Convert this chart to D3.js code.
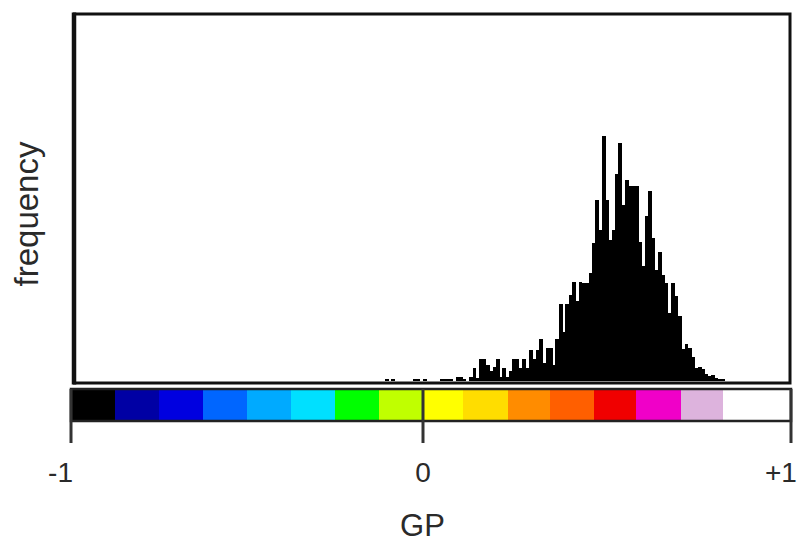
<!DOCTYPE html>
<html>
<head>
<meta charset="utf-8">
<script src="https://cdn.jsdelivr.net/npm/d3@7"></script>
<style>
  body { margin: 0; background: #fff; }
  text { font-family: "Liberation Sans", Arial, sans-serif; fill: #2a2a2a; }
</style>
</head>
<body>
<div id="chart"></div>
<script>
const W = 797, H = 545;

// histogram: bins of width 0.009 GP starting at -0.108
const binStart = -0.108;
const binWidth = 0.009;
const counts = [
  2, 0, 2, 0, 0, 0, 0, 0, 0, 2, 2, 0,
  2, 0, 0, 0, 0, 2, 2, 2, 2, 0,
  4, 4, 2, 0, 4, 13, 3, 22, 22, 16,
  10, 14, 22, 4, 13, 4, 10, 22, 22, 13,
  22, 13, 31, 22, 31, 42, 18, 33, 33, 16,
  42, 77, 49, 77, 86, 99, 80, 99, 98, 98,
  108, 138, 181, 151, 245, 181, 141, 151, 207, 238,
  176, 201, 195, 195, 195, 139, 115, 165, 190, 143,
  111, 129, 106, 98, 68, 98, 85, 65, 32, 37,
  33, 24, 13, 14, 12, 7, 5, 6, 3, 2, 2
];

// colour bar segments (GP boundaries) and colours
const gpStops = [-1, -0.875, -0.75, -0.625, -0.5, -0.375, -0.25, -0.125, 0,
                 0.11, 0.23, 0.345, 0.465, 0.58, 0.70, 0.815, 1];
const gpColors = ["#000000", "#0000a4", "#0000e0", "#0066ff", "#00aaff", "#00e0ff",
                  "#00ff00", "#c0ff00", "#ffff00", "#ffdd00", "#ff8c00", "#ff5f00",
                  "#f00000", "#f000c8", "#ddb3dd", "#ffffff"];

const tickValues = [-1, 0, 1];
const tickLabels = ["-1", "0", "+1"];

const x = d3.scaleLinear().domain([-1, 0, 1]).range([71, 423, 791]);
const y = d3.scaleLinear().domain([0, 367]).range([381, 14]);

const svg = d3.select("#chart").append("svg")
  .attr("width", W).attr("height", H);

// histogram bars
svg.append("g")
  .attr("shape-rendering", "crispEdges")
  .selectAll("rect")
  .data(counts)
  .enter()
  .append("rect")
    .attr("x", (d, i) => x(binStart + i * binWidth))
    .attr("width", (d, i) => x(binStart + (i + 1) * binWidth) - x(binStart + i * binWidth) + 0.4)
    .attr("y", d => y(d))
    .attr("height", d => y(0) - y(d))
    .attr("fill", "#000");

// plot frame
svg.append("rect")
  .attr("x", 74.5).attr("y", 14)
  .attr("width", 790 - 74.5).attr("height", 383 - 14)
  .attr("fill", "none").attr("stroke", "#111").attr("stroke-width", 3);
svg.append("line")
  .attr("x1", 74).attr("x2", 74).attr("y1", 12.5).attr("y2", 384.5)
  .attr("stroke", "#111").attr("stroke-width", 4.5);

// colour bar
const segs = gpColors.map((c, i) => ({c: c, a: gpStops[i], b: gpStops[i + 1]}));
svg.append("g")
  .attr("shape-rendering", "crispEdges")
  .selectAll("rect")
  .data(segs)
  .enter()
  .append("rect")
    .attr("x", d => x(d.a))
    .attr("width", d => x(d.b) - x(d.a) + 0.5)
    .attr("y", 389)
    .attr("height", 32)
    .attr("fill", d => d.c);

svg.append("rect")
  .attr("x", x(-1)).attr("y", 389)
  .attr("width", x(1) - x(-1)).attr("height", 32)
  .attr("fill", "none").attr("stroke", "#222").attr("stroke-width", 2.5);

// ticks
svg.selectAll(".tick")
  .data(tickValues)
  .enter()
  .append("line")
    .attr("class", "tick")
    .attr("x1", d => x(d)).attr("x2", d => x(d))
    .attr("y1", 389).attr("y2", 443)
    .attr("stroke", "#333").attr("stroke-width", 3);

svg.selectAll(".ticklabel")
  .data(tickValues)
  .enter()
  .append("text")
    .attr("class", "ticklabel")
    .attr("x", d => x(d))
    .attr("y", 482)
    .attr("dx", (d, i) => i === 0 ? 2 : (i === tickValues.length - 1 ? -26 : 0))
    .attr("text-anchor", (d, i) => i === 0 ? "end" : (i === tickValues.length - 1 ? "start" : "middle"))
    .attr("font-size", 28)
    .text((d, i) => tickLabels[i]);

// axis titles
svg.append("text")
  .attr("x", 422.5).attr("y", 536)
  .attr("text-anchor", "middle")
  .attr("font-size", 31)
  .text("GP");

svg.append("text")
  .attr("transform", "translate(38,214) rotate(-90)")
  .attr("text-anchor", "middle")
  .attr("font-size", 33)
  .text("frequency");
</script>
</body>
</html>
